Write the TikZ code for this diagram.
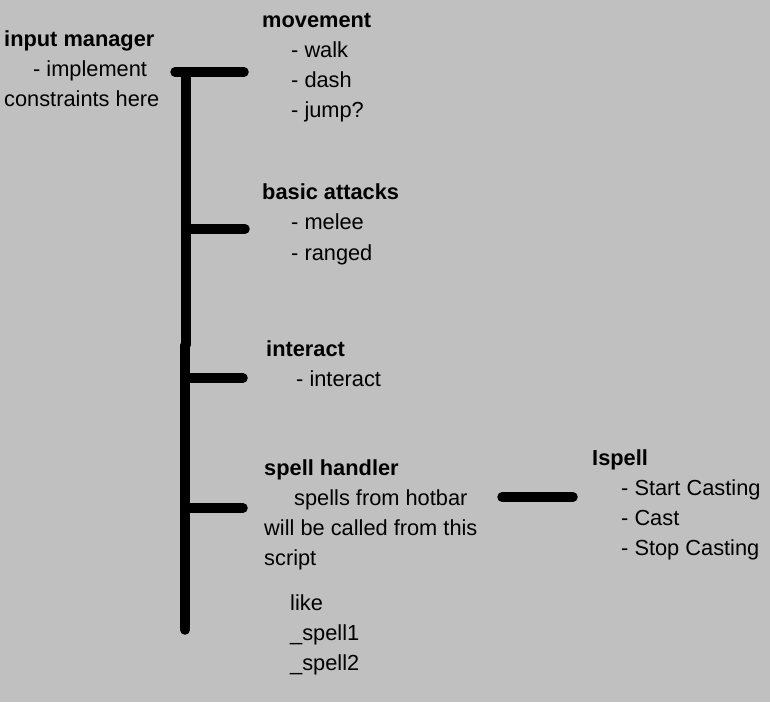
\documentclass[tikz,border=0pt]{standalone}
\usepackage{fontspec}
\setmainfont{Liberation Sans}
\definecolor{bg}{RGB}{192,192,192}
\tikzset{
  txt/.style={anchor=base west, inner sep=0pt, font=\fontsize{21.8}{30}\selectfont},
  hdr/.style={txt, font=\fontsize{21.8}{30}\selectfont\bfseries},
  bar/.style={line width=9.5pt, line cap=round, black}
}
\begin{document}
\begin{tikzpicture}[x=1pt,y=-1pt]
\fill[bg] (0,0) rectangle (770,702);
\useasboundingbox (0,0) rectangle (770,702);
% input manager
\node[hdr] (im) at (4,46) {input manager};
\node[txt] (im1) at (33,76) {- implement};
\node[txt] (im2) at (4,106) {constraints here};
% movement
\node[hdr] (mv) at (262,27) {movement};
\node[txt] (mv1) at (291,57) {- walk};
\node[txt] (mv2) at (291,87) {- dash};
\node[txt] (mv3) at (291,117) {- jump?};
% basic attacks
\node[hdr] (ba) at (262,199) {basic attacks};
\node[txt] (ba1) at (291,229) {- melee};
\node[txt] (ba2) at (291,260) {- ranged};
% interact
\node[hdr] (ia) at (266,356) {interact};
\node[txt] (ia1) at (296,386) {- interact};
% spell handler
\node[hdr] (sh) at (264,475) {spell handler};
\node[txt] (sh1) at (294,505) {spells from hotbar};
\node[txt] (sh2) at (264,535) {will be called from this};
\node[txt] (sh3) at (264,565) {script};
\node[txt] (lk) at (290,610) {like};
\node[txt] (lk1) at (290,640) {\_spell1};
\node[txt] (lk2) at (290,670) {\_spell2};
% ispell
\node[hdr] (is) at (592,465) {Ispell};
\node[txt] (is1) at (621,495) {- Start Casting};
\node[txt] (is2) at (621,525) {- Cast};
\node[txt] (is3) at (621,555) {- Stop Casting};
% connectors
\coordinate (tl) at (175,72);
\coordinate (tr) at (244,72);
\coordinate (vt) at (186,72);
\coordinate (vm) at (186,345);
\coordinate (vm2) at (185,345);
\coordinate (vb) at (185,630);
\coordinate (b1) at (186,229);
\coordinate (b1e) at (245,229);
\coordinate (b2) at (186,378);
\coordinate (b2e) at (243,378);
\coordinate (b3) at (185,508);
\coordinate (b3e) at (243,508);
\coordinate (s1) at (502,497);
\coordinate (s2) at (573,497);
\draw[bar] (tl) -- (tr);
\draw[bar] (vt) -- (vm);
\draw[bar] (vm2) -- (vb);
\draw[bar] (b1) -- (b1e);
\draw[bar] (b2) -- (b2e);
\draw[bar] (b3) -- (b3e);
\draw[bar] (s1) -- (s2);
\end{tikzpicture}
\end{document}
